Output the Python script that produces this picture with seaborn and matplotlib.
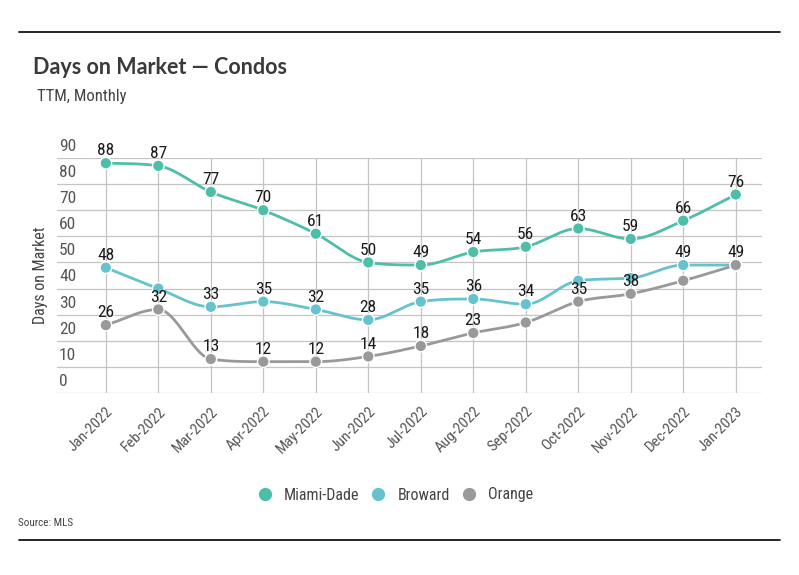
import numpy as np
import pandas as pd
import matplotlib
matplotlib.use("Agg")
import matplotlib.pyplot as plt
import matplotlib.transforms as mtransforms
from matplotlib.lines import Line2D
from matplotlib import font_manager
import seaborn as sns

# ---------------- data ----------------
months = ["Jan-2022", "Feb-2022", "Mar-2022", "Apr-2022", "May-2022", "Jun-2022",
          "Jul-2022", "Aug-2022", "Sep-2022", "Oct-2022", "Nov-2022", "Dec-2022", "Jan-2023"]
miami_dade = [88, 87, 77, 70, 61, 50, 49, 54, 56, 63, 59, 66, 76]
broward = [48, 40, 33, 35, 32, 28, 35, 36, 34, 43, 44, 49, 49]
orange = [26, 32, 13, 12, 12, 14, 18, 23, 27, 35, 38, 43, 49]
miami_show = [1, 1, 1, 1, 1, 1, 1, 1, 1, 1, 1, 1, 1]
broward_show = [1, 0, 1, 1, 1, 1, 1, 1, 1, 0, 0, 1, 0]
orange_show = [1, 1, 1, 1, 1, 1, 1, 1, 0, 1, 1, 0, 1]
series_names = ["Miami-Dade", "Broward", "Orange"]
colors = ["#4dbfa8", "#66c2cc", "#999999"]
y_ticks = [0, 10, 20, 30, 40, 50, 60, 70, 80, 90]

# ---------------- fonts ----------------
avail = {f.name for f in font_manager.fontManager.ttflist}
def pick(*names):
    for n in names:
        if n in avail:
            return n
    return "DejaVu Sans"
narrow = pick("Liberation Sans Narrow", "Roboto Condensed", "Open Sans Condensed", "DejaVu Sans")
boldf = pick("Lato", "Open Sans", "DejaVu Sans")

sns.set_theme(style="white")
plt.rcParams["font.family"] = [narrow, "DejaVu Sans"]


def monotone(y):
    """Chart.js style monotone cubic for evenly spaced x."""
    y = np.asarray(y, float)
    n = len(y)
    d = np.diff(y)
    m = np.zeros(n)
    m[0] = d[0]
    m[-1] = d[-1]
    for i in range(1, n - 1):
        if d[i - 1] == 0 or d[i] == 0 or np.sign(d[i - 1]) != np.sign(d[i]):
            m[i] = 0
        else:
            m[i] = (d[i - 1] + d[i]) / 2
    for i in range(n - 1):
        if d[i] == 0:
            m[i] = m[i + 1] = 0
            continue
        a = m[i] / d[i]
        b = m[i + 1] / d[i]
        s = a * a + b * b
        if s > 9:
            t = 3 / np.sqrt(s)
            m[i] = t * a * d[i]
            m[i + 1] = t * b * d[i]
    xs, ys = [], []
    tt = np.linspace(0, 1, 30, endpoint=False)
    for i in range(n - 1):
        h00 = 2 * tt**3 - 3 * tt**2 + 1
        h10 = tt**3 - 2 * tt**2 + tt
        h01 = -2 * tt**3 + 3 * tt**2
        h11 = tt**3 - tt**2
        xs.append(i + tt)
        ys.append(h00 * y[i] + h10 * m[i] + h01 * y[i + 1] + h11 * m[i + 1])
    xs.append([n - 1])
    ys.append([y[-1]])
    return np.concatenate(xs), np.concatenate(ys)


W, H = 799, 575
fig = plt.figure(figsize=(W / 100, H / 100), dpi=100)
ax = fig.add_axes([57 / W, 1 - 393 / H, (762 - 57) / W, (393 - 158) / H])

# grid
for yv in y_ticks:
    ax.axhline(yv, color="#c4c4c4", lw=0.9, zorder=0)
for i in range(len(months)):
    ax.axvline(i, color="#c4c4c4", lw=0.9, zorder=0)

all_series = [miami_dade, broward, orange]
shows = [miami_show, broward_show, orange_show]

rows = []
for name, vals in zip(series_names, all_series):
    xs, ys = monotone(vals)
    for a, b in zip(xs, ys):
        rows.append({"x": a, "y": b, "series": name})
curve = pd.DataFrame(rows)
pts = pd.DataFrame({
    "x": np.tile(np.arange(len(months)), 3),
    "y": np.concatenate(all_series),
    "series": np.repeat(series_names, len(months)),
})
pal = dict(zip(series_names, colors))

sns.lineplot(data=curve, x="x", y="y", hue="series", palette=pal, lw=2.0,
             legend=False, ax=ax, zorder=3, sort=False, estimator=None)
sns.scatterplot(data=pts, x="x", y="y", hue="series", palette=pal, s=70,
                edgecolor="white", linewidth=1.0, legend=False, ax=ax, zorder=4)

# data labels
for vals, show in zip(all_series, shows):
    for i, (v, s) in enumerate(zip(vals, show)):
        if s:
            ax.annotate(str(v), (i, v), xytext=(0, 3.5), textcoords="offset points",
                        ha="center", va="bottom", fontsize=12.5, color="#1a1a1a", zorder=6)

ax.set_xlim(-0.93, 12.5)
ax.set_ylim(0, 90)
ax.set_xticks(range(len(months)))
ax.set_xticklabels(months, rotation=45, ha="right", rotation_mode="anchor",
                   fontsize=11, color="#555555")
ax.tick_params(axis="x", length=0, pad=8)
ax.set_yticks([])
for sp in ax.spines.values():
    sp.set_visible(False)
ax.set_xlabel("")
ax.set_ylabel("")

# y tick labels sitting above their gridlines
offs = mtransforms.offset_copy(ax.get_yaxis_transform(), fig=fig, x=0, y=3, units="points")
for yv in y_ticks:
    ax.text(0.003, yv, str(yv), transform=offs, ha="left", va="bottom",
            fontsize=12.5, color="#555555")

fig.text(40 / W, 1 - 275 / H, "Days on Market", rotation=90, ha="center", va="center",
         fontsize=11.5, color="#444444")

# titles
fig.text(33 / W, 1 - 68 / H, "Days on Market \u2014 Condos", ha="left", va="center",
         fontsize=15.5, fontweight="bold", color="#3a3a3a", family=[boldf, "DejaVu Sans"])
fig.text(37 / W, 1 - 97 / H, "TTM, Monthly", ha="left", va="center",
         fontsize=12, color="#444444")

# legend
handles = [Line2D([0], [0], marker="o", linestyle="", markersize=8.5,
                  markerfacecolor=c, markeredgecolor=c) for c in colors]
fig.legend(handles, series_names, loc="center", bbox_to_anchor=(395 / W, 1 - 495 / H),
           ncol=3, frameon=False, fontsize=11.5, handlelength=1.0, handletextpad=0.7,
           columnspacing=0.7, labelcolor="#444444")

fig.text(18 / W, 1 - 523 / H, "Source: MLS", ha="left", va="center", fontsize=8,
         color="#444444")

# top and bottom rules
fig.add_artist(Line2D([19 / W, 780 / W], [1 - 32 / H, 1 - 32 / H], color="black", lw=1.2))
fig.add_artist(Line2D([19 / W, 780 / W], [1 - 540 / H, 1 - 540 / H], color="black", lw=1.2))

fig.savefig("out.png", dpi=100)
